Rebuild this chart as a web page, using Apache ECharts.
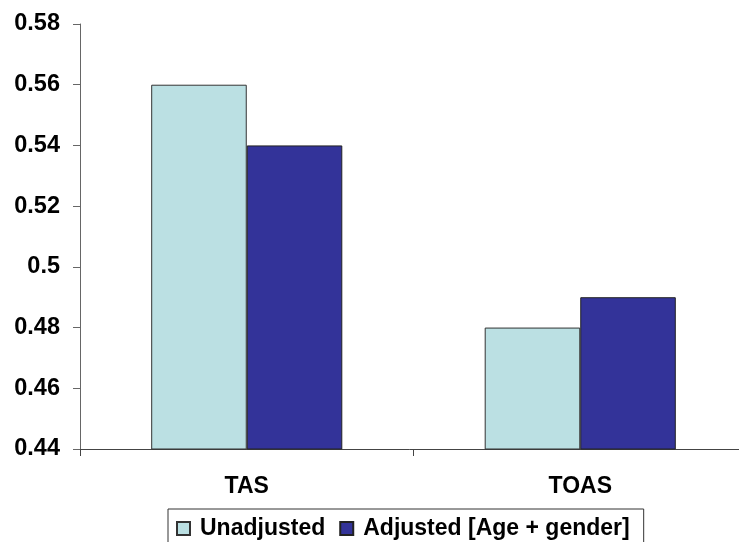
<!DOCTYPE html>
<html>
<head>
<meta charset="utf-8">
<script src="https://cdn.jsdelivr.net/npm/echarts@6/dist/echarts.min.js"></script>
<style>html,body{margin:0;padding:0;background:#fff;}#c{width:739px;height:542px;}</style>
</head>
<body>
<div id="c"></div>
<script>
const categories = ['TAS', 'TOAS'];
const seriesNames = ['Unadjusted', 'Adjusted [Age + gender]'];
const unadjusted = [0.56, 0.48];
const adjusted = [0.54, 0.49];
const yMin = 0.44, yMax = 0.58, yStep = 0.02;

const font = '"Liberation Sans", Arial, sans-serif';
const chart = echarts.init(document.getElementById('c'), null, {renderer: 'canvas'});
chart.setOption({
  animation: false,
  backgroundColor: '#fff',
  grid: {left: 80, top: 24, width: 667, bottom: 93, containLabel: false, outerBoundsMode: 'none'},
  legend: {
    left: 168, top: 509,
    padding: [8, 14, 8, 8],
    borderColor: '#333', borderWidth: 1,
    itemWidth: 13, itemHeight: 13, itemGap: 14,
    icon: 'rect',
    textStyle: {fontFamily: font, fontWeight: 'bold', fontSize: 23, color: '#000', padding: [0, 0, 0, 5]},
    data: seriesNames
  },
  xAxis: {
    type: 'category', data: categories,
    axisLine: {lineStyle: {color: '#444', width: 1}},
    axisTick: {show: true, length: 7, alignWithLabel: false, lineStyle: {color: '#444'}},
    axisLabel: {margin: 26, fontFamily: font, fontWeight: 'bold', fontSize: 23, color: '#000'}
  },
  yAxis: {
    type: 'value', min: yMin, max: yMax, interval: yStep,
    axisLine: {show: true, lineStyle: {color: '#666', width: 1}},
    axisTick: {show: true, length: 7, lineStyle: {color: '#666'}},
    splitLine: {show: false},
    axisLabel: {margin: 20, fontFamily: font, fontWeight: 'bold', fontSize: 23.5, color: '#000',
      formatter: v => String(parseFloat(v.toFixed(2)))}
  },
  series: [
    {name: seriesNames[0], type: 'bar', data: unadjusted, barGap: '0%', barCategoryGap: '42.7%',
     itemStyle: {color: '#BBE0E3', borderColor: '#333', borderWidth: 1}},
    {name: seriesNames[1], type: 'bar', data: adjusted, barGap: '0%', barCategoryGap: '42.7%',
     itemStyle: {color: '#333399', borderColor: '#222', borderWidth: 1}}
  ]
});
</script>
</body>
</html>
